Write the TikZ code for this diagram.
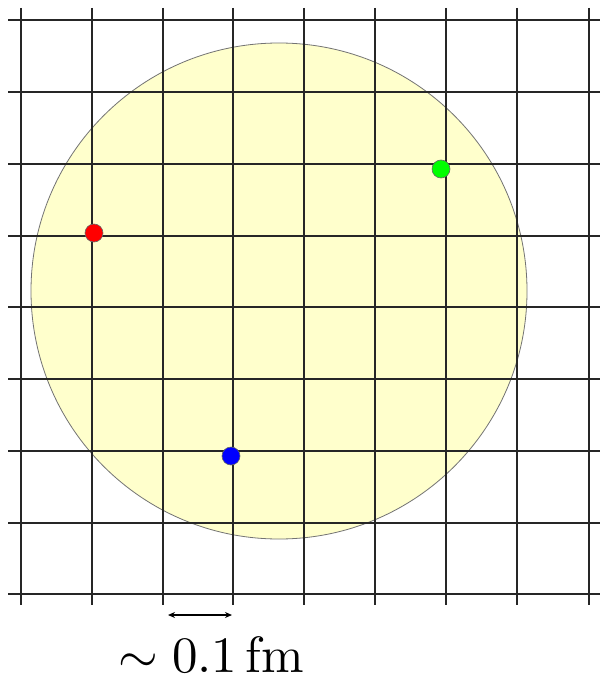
\documentclass[tikz,border=0pt]{standalone}
\usepackage{graphicx}
\usetikzlibrary{arrows.meta}
\definecolor{disk}{RGB}{255,255,204}
\begin{document}
\begin{tikzpicture}[x=1pt,y=-1pt,
  gridline/.style={line width=1.6pt, draw=black!85},
  quark/.style={circle, draw=black!60, line width=0.6pt, minimum size=18pt, inner sep=0pt},
  scalearrow/.style={{Stealth[length=7pt,width=6pt]}-{Stealth[length=7pt,width=6pt]}, line width=1.2pt}]
\useasboundingbox (0,0) rectangle (602,679);
\fill[white] (0,0) rectangle (602,679);
% nucleon disk
\node[circle, fill=disk, draw=black!55, line width=0.8pt, minimum size=496pt, inner sep=0pt] (disk) at (279,291) {};
% grid
\foreach \x in {21,92,163,233,304,375,446,517,589}
  \draw[gridline] (\x,8) -- (\x,605);
\foreach \y in {20,92,164,236,307,379,451,523,594}
  \draw[gridline] (8,\y) -- (600,\y);
% quarks
\node[quark, fill=red] (r) at (94,233) {};
\node[quark, fill=green] (g) at (441,169) {};
\node[quark, fill=blue] (b) at (231,456) {};
% scale
\coordinate (a1) at (168,615);
\coordinate (a2) at (232,615);
\draw[scalearrow] (a1) -- (a2);
\node[anchor=base, inner sep=0pt] (lab) at (211,672) {\scalebox{5.1}{$\sim 0.1\,\mathrm{fm}$}};
\end{tikzpicture}
\end{document}
